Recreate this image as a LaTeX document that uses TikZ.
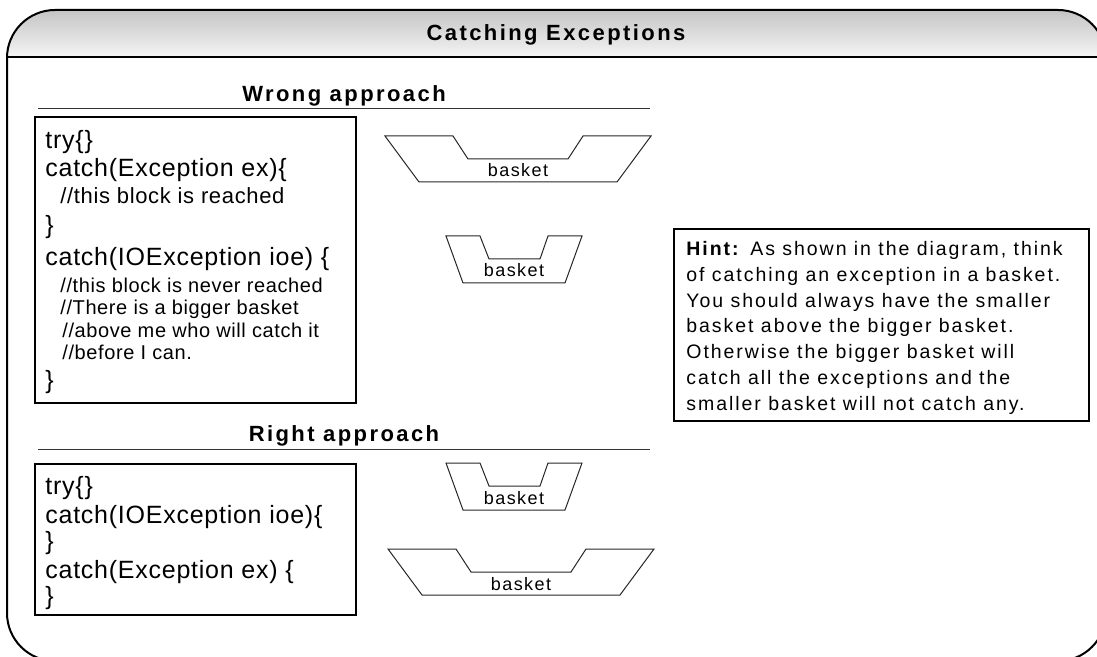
\documentclass[tikz,border=0pt]{standalone}
\usepackage{fontspec}
\setmainfont{Liberation Sans}
\newfontfamily\titlefont[LetterSpace=11]{Liberation Sans}
\newfontfamily\hintfont[LetterSpace=10]{Liberation Sans}
\newfontfamily\codefont[LetterSpace=3]{Liberation Sans}
\newfontfamily\basketfont[LetterSpace=8]{Liberation Sans}
\definecolor{barTop}{gray}{0.77}
\definecolor{barBottom}{gray}{0.96}
\tikzstyle{frame_line} = [line width=1pt, rounded corners=24pt]
\tikzstyle{head_text} = [inner sep=0, anchor=base, font=\titlefont\bfseries\fontsize{11}{13}\selectfont]
\tikzstyle{head_rule} = [line width=0.5pt, draw=black!80]
\tikzstyle{code_box} = [rectangle, draw=black, line width=0.8pt, inner sep=0, anchor=north west]
\tikzstyle{code_big} = [inner sep=0, anchor=base west, font=\codefont\fontsize{12.5}{15}\selectfont]
\tikzstyle{code_mid} = [code_big, font=\codefont\fontsize{11}{13}\selectfont]
\tikzstyle{code_small} = [code_big, font=\codefont\fontsize{10}{12}\selectfont]
\tikzstyle{hint_text} = [inner sep=0, anchor=north west, align=left, font=\hintfont\fontsize{9.75}{12.9}\selectfont]
\tikzstyle{basket_line} = [line width=0.5pt, draw=black!85]
\tikzstyle{basket_label} = [inner sep=0, anchor=base, font=\basketfont\fontsize{9}{11}\selectfont]
\tikzset{
  big_basket/.pic={
    \draw [basket_line] (-133,0) -- (-65,0) -- (-50,23) -- (50,23) -- (65,0) -- (133,0) -- (99,46) -- (-99,46) -- cycle;
    \node (-label) [basket_label] at (0,41) {basket};
  },
  small_basket/.pic={
    \draw [basket_line] (-68,0) -- (-34,0) -- (-25,23) -- (26,23) -- (34,0) -- (68,0) -- (51,47) -- (-51,47) -- cycle;
    \node (-label) [basket_label] at (0,41) {basket};
  }
}
\begin{document}
\begin{tikzpicture}[x=0.5pt, y=-0.5pt]
\useasboundingbox (0,0) rectangle (1097,657);
\clip (0,0) rectangle (1097,657);

% Rahmen mit Titelleiste
\begin{scope}
\clip [rounded corners=24pt] (7,10) rectangle (1106,661);
\shade [top color=barTop, bottom color=barBottom] (7,10) rectangle (1106,57);
\end{scope}
\draw [frame_line] (7,10) rectangle (1106,661);
\draw [line width=1pt] (7,57) -- (1106,57);
\node (title) [head_text] at (556,41) {Catching Exceptions};

% falscher Ansatz
\node (wrongtitle) [head_text] at (344,102) {Wrong approach};
\draw [head_rule] (38,109) -- (650,109);
\node (wrongbox) [code_box, minimum width=160.5pt, minimum height=143pt] at (34,116) {};
\node (w1) [code_big] at (45,149) {try\{\}};
\node (w2) [code_big] at (45,177) {catch(Exception ex)\{};
\node (w3) [code_mid] at (60,204) {//this block is reached};
\node (w4) [code_big] at (45,234) {\}};
\node (w5) [code_big] at (45,266) {catch(IOException ioe) \{};
\node (w6) [code_small] at (60,293) {//this block is never reached};
\node (w7) [code_small] at (60,315) {//There is a bigger basket};
\node (w8) [code_small] at (62,338) {//above me who will catch it};
\node (w9) [code_small] at (62,360) {//before I can.};
\node (w10) [code_big] at (45,388) {\}};
\pic (wrongbig) at (518,136) {big_basket};
\pic (wrongsmall) at (514,236) {small_basket};

% richtiger Ansatz
\node (righttitle) [head_text] at (344,442) {Right approach};
\draw [head_rule] (38,449) -- (650,449);
\node (rightbox) [code_box, minimum width=160.5pt, minimum height=75.5pt] at (34,463) {};
\node (r1) [code_big] at (45,494) {try\{\}};
\node (r2) [code_big] at (45,523) {catch(IOException ioe)\{};
\node (r3) [code_big] at (45,549) {\}};
\node (r4) [code_big] at (45,578) {catch(Exception ex) \{};
\node (r5) [code_big] at (45,604) {\}};
\pic (rightsmall) at (514,463) {small_basket};
\pic (rightbig) at (521,549) {big_basket};

% Hinweis
\node (hintbox) [code_box, minimum width=207.5pt, minimum height=96pt] at (673,228) {};
\node (hint) [hint_text] at (686,241) {\textbf{Hint:} As shown in the diagram, think\\
of catching an exception in a basket.\\
You should always have the smaller\\
basket above the bigger basket.\\
Otherwise the bigger basket will\\
catch all the exceptions and the\\
smaller basket will not catch any.};
\end{tikzpicture}
\end{document}
